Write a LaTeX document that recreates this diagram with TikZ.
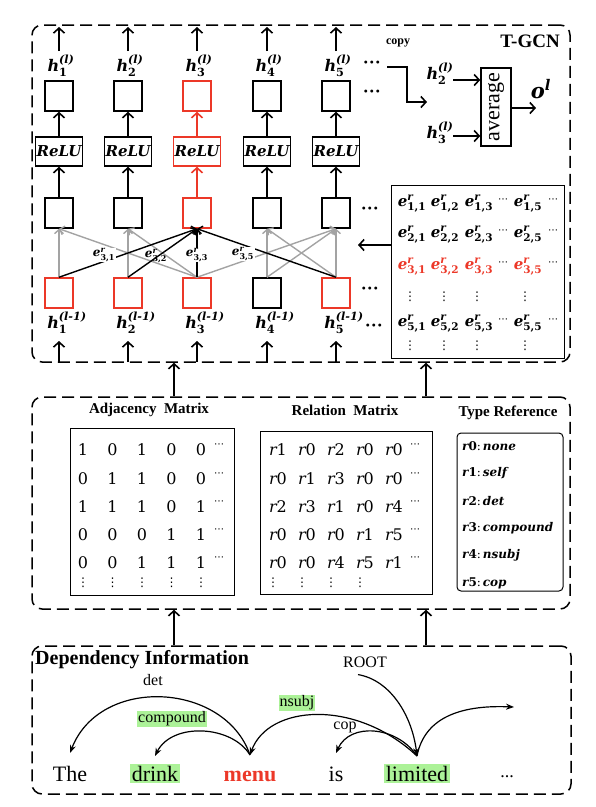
\documentclass[tikz,border=0pt]{standalone}
\usepackage{amsmath}
\usepackage{graphicx}
\usepackage[no-math]{fontspec}
\setmainfont{Liberation Serif}
\newfontfamily\cambfont{DejaVu Serif}
\newfontfamily\symfont{DejaVu Sans}
\usepackage{tikz}
\usetikzlibrary{arrows.meta}

\definecolor{cellred}{RGB}{236,56,40}
\definecolor{edgegray}{RGB}{163,163,163}
\definecolor{tagGreen}{RGB}{172,242,152}
\newcommand{\fsz}[1]{\fontsize{#1}{#1}\selectfont}
\newcommand{\mbi}[1]{\text{\cambfont\bfseries\itshape #1}}
\newcommand{\mbu}[1]{\text{\cambfont\bfseries #1}}
\newcommand{\mri}[1]{\text{\cambfont\itshape #1}}
\newcommand{\mru}[1]{\text{\cambfont #1}}

\tikzset{
  cell/.style={draw,line width=1.5pt,minimum width=28pt,minimum height=30pt,inner sep=0pt},
  relubox/.style={draw,line width=1.5pt,minimum width=47pt,minimum height=29pt,inner sep=0pt,font=\fsz{15}},
  dashbox/.style={draw,line width=1.5pt,dash pattern=on 12pt off 6pt,rounded corners=10pt,inner sep=0pt},
  matbox/.style={draw,line width=1pt,inner sep=0pt},
  arr/.style={line width=1.6pt,-{Straight Barb[length=5pt,width=11pt]}},
  edgearr/.style={line width=1.4pt,-{Straight Barb[length=4pt,width=9pt]}},
  deparr/.style={line width=1.2pt,-{Stealth[length=8pt,width=6pt]}},
  hlabel/.style={font=\fsz{16},inner sep=0pt},
  elabel/.style={font=\fsz{12},inner sep=0.5pt},
  entry/.style={font=\fsz{16},inner sep=0pt},
  celldots/.style={font=\bfseries\fsz{18},inner sep=0pt},
  hdots/.style={font=\symfont\fsz{10},inner sep=0pt},
  vdotsnode/.style={font=\symfont\fsz{12},inner sep=0pt},
  word/.style={font=\fsz{22},inner sep=1.5pt,anchor=base},
  deplabel/.style={font=\fsz{16},inner sep=1pt},
}

\begin{document}
\begin{tikzpicture}[x=1pt,y=-1pt]
\useasboundingbox (0,0) rectangle (596,807);

\node[dashbox,minimum width=538pt,minimum height=337pt] (tgcn) at (301,193.5) {};
\node[dashbox,minimum width=538pt,minimum height=212pt] (mats) at (301,503) {};
\node[dashbox,minimum width=539pt,minimum height=148pt] (dep) at (301.5,720) {};
\node[font=\bfseries\fsz{19}] (tgcnt) at (530,41) {T-GCN};

\foreach \i/\x/\col in {1/59/black,2/128/black,3/197/cellred,4/267/black,5/336/black}{
  \node[hlabel] (hl\i) at (\x+2,66) {$\mbi{h}_{\mbu{\i}}^{\mbi{(l)}}$};
  \node[cell,draw=\col] (top\i) at (\x,96) {};
  \node[relubox,draw=\col] (relu\i) at (\x,151.5) {$\mbi{ReLU}$};
  \node[cell,draw=\col] (mid\i) at (\x,213) {};
  \coordinate (lo\i) at (\x,51);
  \coordinate (out\i) at (\x,27);
  \draw[arr] (lo\i) -- (out\i);
  \draw[arr,\col] (relu\i) -- (top\i);
  \draw[arr,\col] (mid\i) -- (relu\i);
}
\foreach \i/\x/\col in {1/59/cellred,2/128/cellred,3/197/cellred,4/267/black,5/336/cellred}{
  \node[cell,draw=\col] (bot\i) at (\x,293) {};
  \node[hlabel] (hp\i) at (\x+8,323) {$\mbi{h}_{\mbu{\i}}^{\mbi{(l-1)}}$};
  \coordinate (in\i) at (\x,362);
  \coordinate (ti\i) at (\x,341);
  \draw[arr] (in\i) -- (ti\i);
}

\foreach \a/\b in {1/1,3/1,2/2,3/2,4/4,5/4,3/5,4/5,5/5}
  \draw[edgearr,edgegray] (bot\a.north) -- (mid\b.south);
\foreach \a in {1,2,3,5}
  \draw[edgearr] (bot\a.north) -- (mid3.south);
\node[elabel,fill=white] (e31l) at (104,255) {$\mbi{e}^{\mbi{r}}_{\mbu{3,1}}$};
\node[elabel] (e32l) at (156,256) {$\mbi{e}^{\mbi{r}}_{\mbu{3,2}}$};
\node[elabel,fill=white] (e33l) at (197,255) {$\mbi{e}^{\mbi{r}}_{\mbu{3,3}}$};
\node[elabel,fill=white] (e35l) at (243,254) {$\mbi{e}^{\mbi{r}}_{\mbu{3,5}}$};

\node[celldots] (dh) at (372,65) {···};
\node[celldots] (dt) at (372,94) {···};
\node[celldots] (dm) at (370,211) {···};
\node[celldots] (db) at (370,291) {···};
\node[celldots] (dp) at (374,328) {···};

\node[font=\bfseries\fsz{12}] (copyt) at (398,43) {copy};
\coordinate (cpa) at (387,67);
\coordinate (cpb) at (427,102);
\draw[arr] (cpa) -- ++(20,0) |- (cpb);

\node[draw,line width=1.5pt,minimum width=30pt,minimum height=78pt,inner sep=0pt,font=\fsz{22}] (avg) at (496,107) {\rotatebox{90}{average}};
\node[hlabel] (ha2) at (440,74) {$\mbi{h}_{\mbu{2}}^{\mbi{(l)}}$};
\node[hlabel] (ha3) at (440,133) {$\mbi{h}_{\mbu{3}}^{\mbi{(l)}}$};
\coordinate (ha2r) at (453,80);
\coordinate (ha3r) at (453,136);
\draw[arr] (ha2r) -- (ha2r -| avg.west);
\draw[arr] (ha3r) -- (ha3r -| avg.west);
\coordinate (oend) at (536,108);
\draw[arr] (avg.east |- oend) -- (oend);
\node[font=\fsz{21}] (ol) at (541,89) {$\mbi{o}^{\mbi{l}}$};

\node[matbox,minimum width=173pt,minimum height=173pt] (emat) at (477.5,271.5) {};
\foreach \r/\y/\col in {1/204/black,2/235/black,3/267/cellred,5/324/black}{
  \foreach \j/\x in {1/412,2/445,3/479,5/528}
    \node[entry,font=\fsz{15},text=\col] (e\r\j) at (\x,\y) {$\mbi{e}^{\mbi{r}}_{\mbu{\r,\j}}$};
  \node[hdots] (eda\r) at (503,\y-3) {⋯};
  \node[hdots] (edb\r) at (553,\y-3) {⋯};
}
\foreach \j/\x in {1/410,2/444,3/477,5/525}{
  \node[vdotsnode] (eva\j) at (\x,297) {⋮};
  \node[vdotsnode] (evb\j) at (\x,346) {⋮};
}
\coordinate (etip) at (358,245);
\draw[arr] (etip -| emat.west) -- (etip);

\coordinate (upa) at (174,0);
\coordinate (upb) at (426,0);
\draw[arr] (mats.north -| upa) -- (tgcn.south -| upa);
\draw[arr] (mats.north -| upb) -- (tgcn.south -| upb);
\draw[arr] (dep.north -| upa) -- (mats.south -| upa);
\draw[arr] (dep.north -| upb) -- (mats.south -| upb);

\node[font=\bfseries\fsz{15}] (adjt) at (149,410) {Adjacency\ \ Matrix};
\node[matbox,minimum width=164pt,minimum height=167pt] (adj) at (152,511.5) {};
\foreach \row [count=\r] in {{1,0,1,0,0},{0,1,1,0,0},{1,1,1,0,1},{0,0,0,1,1},{0,0,1,1,1}}{
  \foreach \v [count=\k] in \row
    \node[entry] (a\r\k) at (83+29.5*\k-29.5,450+28.25*\r-28.25) {$\mru{\v}$};
  \node[hdots] (ad\r) at (219,446+28.25*\r-28.25) {⋯};
}
\foreach \k in {1,...,5}
  \node[vdotsnode] (av\k) at (83+29.5*\k-29.5,583) {⋮};

\node[font=\bfseries\fsz{15}] (relt) at (345,410) {Relation\ \ Matrix};
\node[matbox,minimum width=172pt,minimum height=163pt] (rel) at (346,512.5) {};
\foreach \row [count=\r] in {{1,0,2,0,0},{0,1,3,0,0},{2,3,1,0,4},{0,0,0,1,5},{0,0,4,5,1}}{
  \foreach \v [count=\k] in \row
    \node[entry] (r\r\k) at (278+29*\k-29,450+28.25*\r-28.25) {$\mri{r}\mru{\v}$};
  \node[hdots] (rd\r) at (415,446+28.25*\r-28.25) {⋯};
}
\foreach \k in {1,...,4}
  \node[vdotsnode] (rv\k) at (273+29*\k-29,583) {⋮};

\node[font=\bfseries\fsz{15}] (treft) at (508,413) {Type Reference};
\node[draw,line width=1pt,rounded corners=4pt,minimum width=106pt,minimum height=158pt,inner sep=0pt] (tref) at (510,512) {};
\foreach \t [count=\r from 0] in {none,self,det,compound,nsubj,cop}
  \node[font=\fsz{12},anchor=west,inner sep=0pt] (ty\r) at (462,446+27.4*\r) {$\mbi{r}\mbu{\r}\mru{:}\,\mbi{\t}$};

\node[font=\bfseries\fsz{20},anchor=west,inner sep=0pt] (dept) at (35,660) {Dependency Information};
\node[word] (wThe) at (70,781) {The};
\node[word,fill=tagGreen] (wdrink) at (155,781) {drink};
\node[word,text=cellred,font=\bfseries\fsz{22}] (wmenu) at (250,781) {menu};
\node[word] (wis) at (336,781) {is};
\node[word,fill=tagGreen] (wlim) at (417,781) {limited};
\node[word,font=\fsz{18}] (wdot) at (507,777) {...};

\node[deplabel] (ldet) at (153,680) {det};
\node[deplabel,fill=tagGreen] (lcomp) at (172,719) {compound};
\node[deplabel,fill=tagGreen] (lnsubj) at (297,703) {nsubj};
\node[deplabel] (lcop) at (345,727) {cop};
\node[deplabel] (root) at (365,662) {ROOT};

\coordinate (pThe) at ([yshift=28pt]wThe.base);
\coordinate (pdrink) at ([yshift=25pt]wdrink.base);
\coordinate (pmenu) at ([yshift=26pt]wmenu.base);
\coordinate (pis) at ([yshift=28pt]wis.base);
\coordinate (plim) at ([yshift=25pt]wlim.base);
\coordinate (proot) at ([xshift=-7pt,yshift=-6pt]root.south);
\coordinate (pright) at (514,707);

\draw[deparr] (pmenu) .. controls (225,682) and (100,675) .. (pThe);
\draw[deparr] (pmenu) .. controls (232,725) and (172,722) .. (pdrink);
\draw[deparr] (plim) .. controls (355,698) and (268,705) .. (pmenu);
\draw[deparr] (plim) .. controls (397,726) and (350,722) .. (pis);
\draw[deparr] (plim) .. controls (425,715) and (465,705) .. (pright);
\draw[deparr] (proot) .. controls (390,680) and (412,715) .. (plim);
\end{tikzpicture}
\end{document}
